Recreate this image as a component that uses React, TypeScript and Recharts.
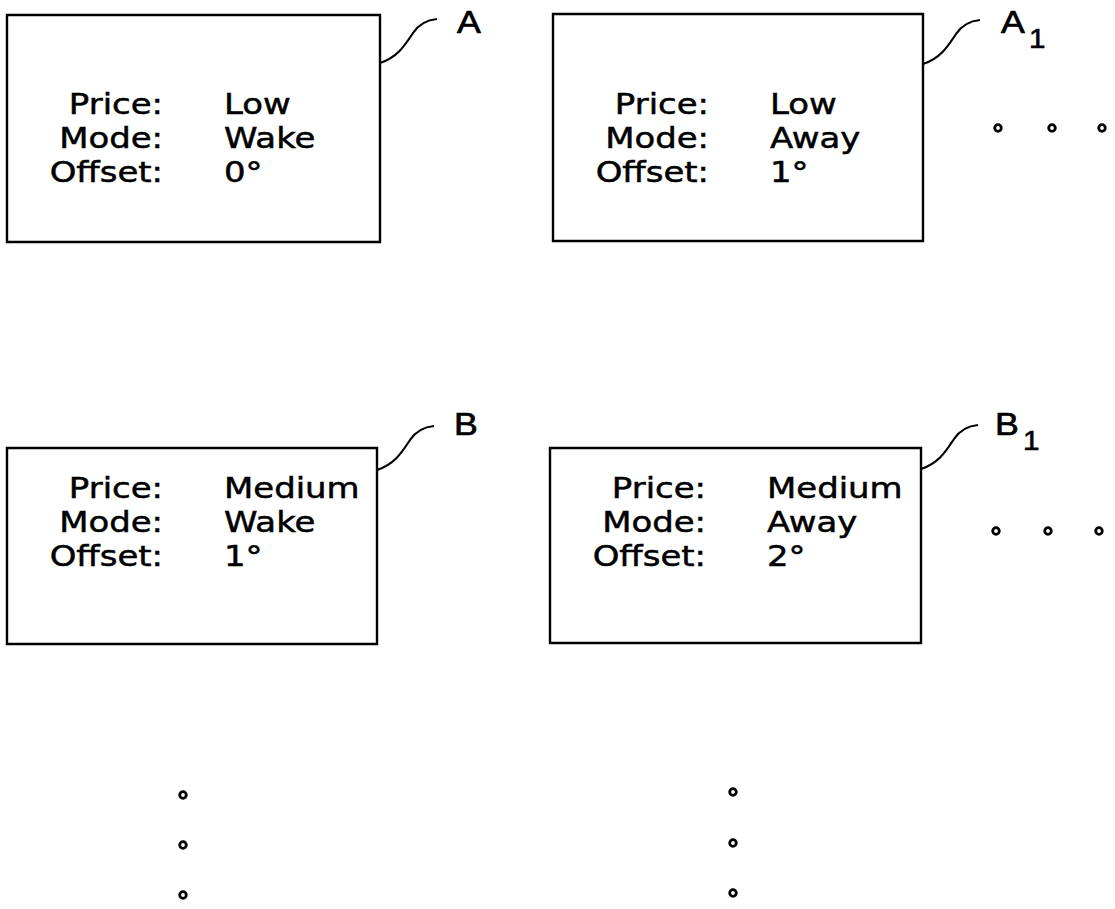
import React from 'react';
import { ScatterChart, Scatter, XAxis, YAxis, ReferenceArea } from 'recharts';

// ---- data (values only) ----
const cardLetters = ['A', 'A', 'B', 'B'];
const cardSubscripts = ['', '1', '', '1'];
const fieldLabels = ['Price:', 'Mode:', 'Offset:'];
const priceValues = ['Low', 'Low', 'Medium', 'Medium'];
const modeValues = ['Wake', 'Away', 'Wake', 'Away'];
const offsetValues = [0, 1, 1, 2];

// ---- layout (sheet coordinates) ----
const W = 1115;
const H = 909;
const CARD_LEFT = [7, 553, 7, 550];
const CARD_RIGHT = [380, 923, 377, 921];
const CARD_TOP = [15, 14, 448, 448];
const CARD_BOTTOM = [242, 241, 644, 643];
const TEXT_BASE = [114, 114, 498, 498];
const ROW_GAP = 34;
const LABEL_DX = 156;
const VALUE_DX = 217;
const LEADER_Y = [63, 64, 470, 469];
const TAG_X = [457, 1001, 454, 995];
const TAG_Y = [33, 33, 435, 435];
const H_DOTS_X = [[998, 1052, 1102], [996, 1048, 1099]];
const H_DOTS_Y = [128, 531];
const V_DOTS_X = [183, 733];
const V_DOTS_Y = [[795, 845, 895], [792, 843, 893]];

const SX = 1.17;
const BOX_FONT = '"DejaVu Sans", Verdana, sans-serif';
const TAG_FONT = '"Liberation Sans", Arial, sans-serif';

const fieldData = cardLetters.flatMap((_, i) =>
  fieldLabels.map((t, r) => ({ x: CARD_LEFT[i] + LABEL_DX, y: TEXT_BASE[i] + r * ROW_GAP, text: t }))
);
const valueData = cardLetters.flatMap((_, i) =>
  [priceValues[i], modeValues[i], `${offsetValues[i]}°`].map((t, r) => ({
    x: CARD_LEFT[i] + VALUE_DX,
    y: TEXT_BASE[i] + r * ROW_GAP,
    text: t,
  }))
);
const leaderData = cardLetters.map((_, i) => ({ x: CARD_RIGHT[i], y: LEADER_Y[i] }));
const tagData = cardLetters.map((l, i) => ({ x: TAG_X[i], y: TAG_Y[i], letter: l, sub: cardSubscripts[i] }));
const dotData = [
  ...H_DOTS_X.flatMap((xs, r) => xs.map((x) => ({ x, y: H_DOTS_Y[r] }))),
  ...V_DOTS_X.flatMap((x, c) => V_DOTS_Y[c].map((y) => ({ x, y }))),
];

const TextShape = (anchor: string) => (p: any) => (
  <text
    transform={`translate(${p.cx},${p.cy}) scale(${SX},1)`}
    textAnchor={anchor}
    fontSize={29}
    fontFamily={BOX_FONT}
    fill="#000"
    stroke="#000"
    strokeWidth={0.5}
  >
    {p.payload.text}
  </text>
);

const LeaderShape = (p: any) => (
  <path
    d={`M${p.cx},${p.cy} C${p.cx + 18},${p.cy - 6} ${p.cx + 25},${p.cy - 18} ${p.cx + 33},${p.cy - 30} C${p.cx + 39},${p.cy - 39} ${p.cx + 46},${p.cy - 43} ${p.cx + 57},${p.cy - 44}`}
    fill="none"
    stroke="#000"
    strokeWidth={2.2}
  />
);

const TagShape = (p: any) => (
  <g>
    <text
      transform={`translate(${p.cx},${p.cy}) scale(1.15,1)`}
      fontSize={31}
      fontFamily={TAG_FONT}
      fill="#000"
      stroke="#000"
      strokeWidth={0.7}
    >
      {p.payload.letter}
    </text>
    {p.payload.sub ? (
      <text
        transform={`translate(${p.cx + 28},${p.cy + 15}) scale(1.1,1)`}
        fontSize={27}
        fontFamily={TAG_FONT}
        fill="#000"
        stroke="#000"
        strokeWidth={0.6}
      >
        {p.payload.sub}
      </text>
    ) : null}
  </g>
);

const DotShape = (p: any) => <circle cx={p.cx} cy={p.cy} r={3.3} fill="#fff" stroke="#000" strokeWidth={2.8} />;

export default function App() {
  return (
    <div style={{ position: 'absolute', left: 0, top: 0, background: '#fff' }}>
      <ScatterChart width={W} height={H} margin={{ top: 0, right: 0, bottom: 0, left: 0 }}>
        <XAxis type="number" dataKey="x" domain={[0, W]} hide allowDataOverflow />
        <YAxis type="number" dataKey="y" domain={[0, H]} reversed hide allowDataOverflow />
        {cardLetters.map((_, i) => (
          <ReferenceArea
            key={i}
            x1={CARD_LEFT[i]}
            x2={CARD_RIGHT[i]}
            y1={CARD_TOP[i]}
            y2={CARD_BOTTOM[i]}
            fill="none"
            stroke="#000"
            strokeWidth={2.4}
            ifOverflow="visible"
          />
        ))}
        <Scatter data={fieldData} shape={TextShape('end')} isAnimationActive={false} />
        <Scatter data={valueData} shape={TextShape('start')} isAnimationActive={false} />
        <Scatter data={leaderData} shape={LeaderShape} isAnimationActive={false} />
        <Scatter data={tagData} shape={TagShape} isAnimationActive={false} />
        <Scatter data={dotData} shape={DotShape} isAnimationActive={false} />
      </ScatterChart>
    </div>
  );
}
